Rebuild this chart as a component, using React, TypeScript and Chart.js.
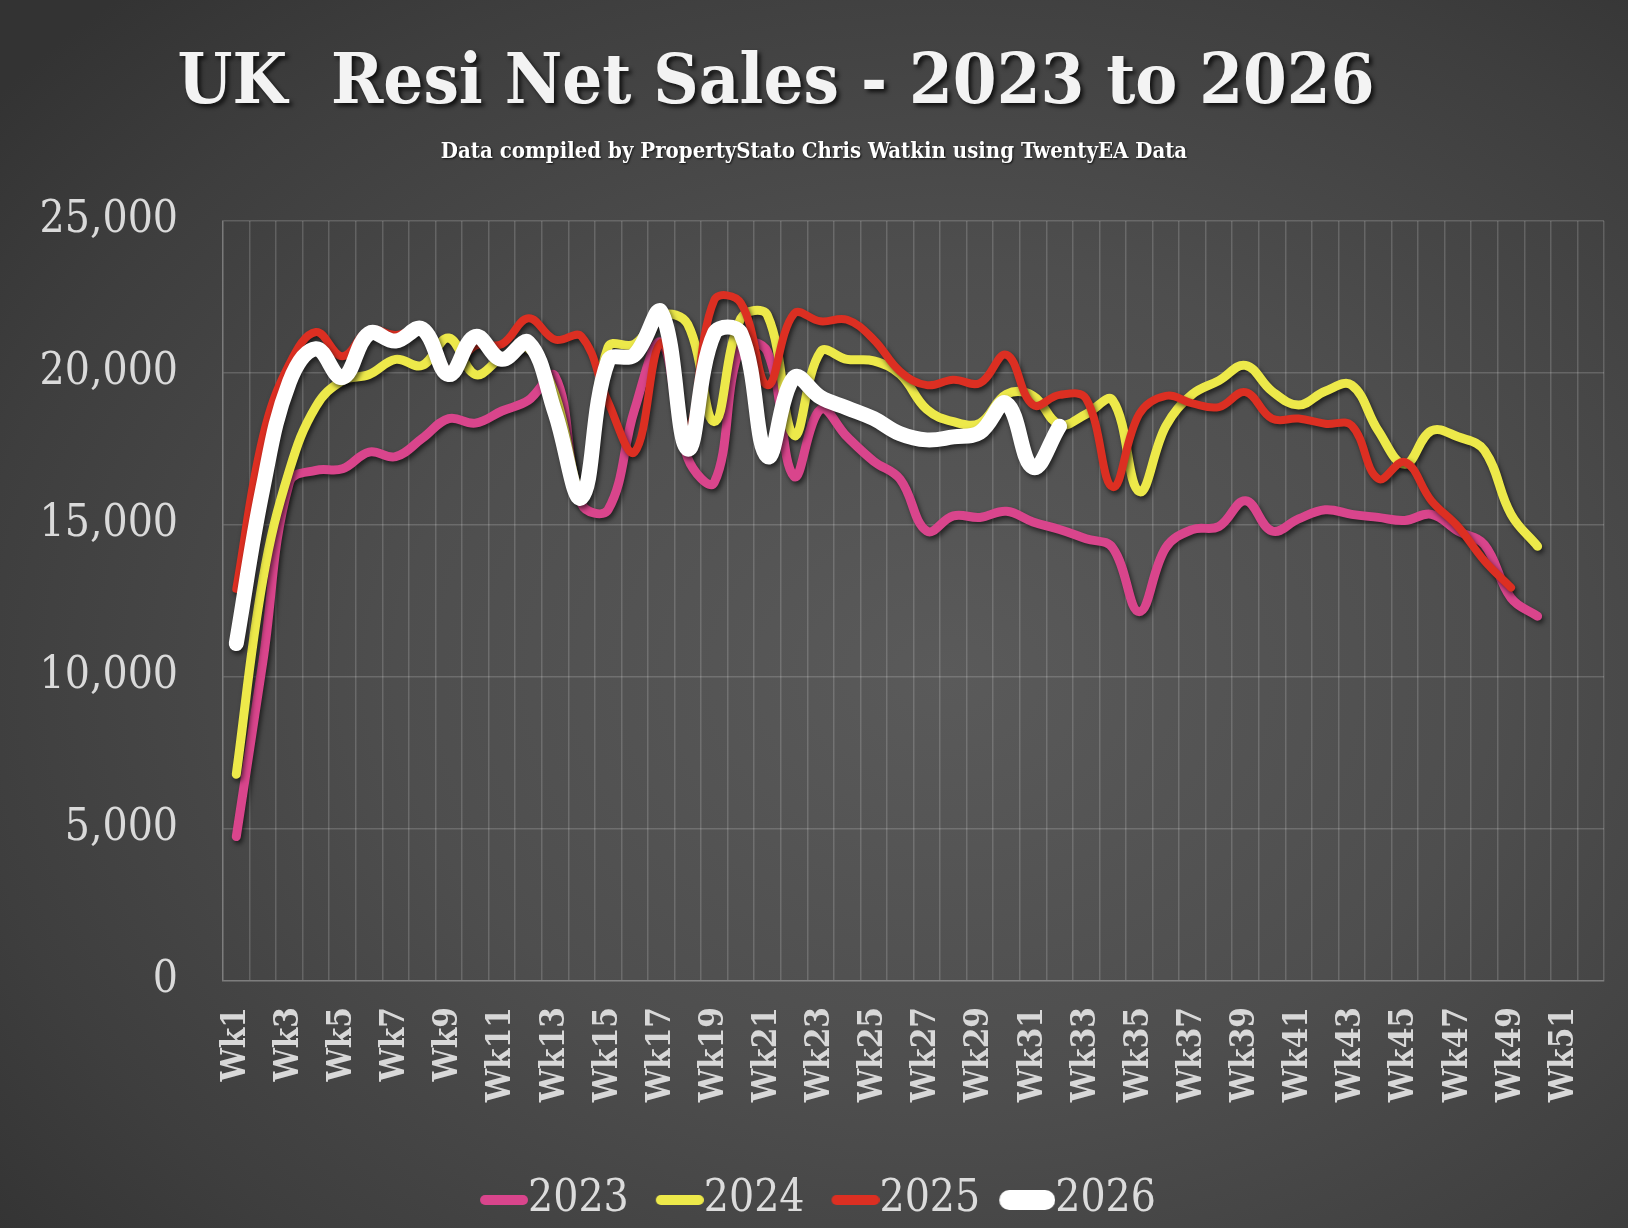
import React, { useEffect, useRef } from 'react';
import { Chart, registerables } from 'chart.js';

Chart.register(...registerables);

const weeks = [
  'Wk1', 'Wk2', 'Wk3', 'Wk4', 'Wk5', 'Wk6', 'Wk7', 'Wk8', 'Wk9', 'Wk10',
  'Wk11', 'Wk12', 'Wk13', 'Wk14', 'Wk15', 'Wk16', 'Wk17', 'Wk18', 'Wk19', 'Wk20',
  'Wk21', 'Wk22', 'Wk23', 'Wk24', 'Wk25', 'Wk26', 'Wk27', 'Wk28', 'Wk29', 'Wk30',
  'Wk31', 'Wk32', 'Wk33', 'Wk34', 'Wk35', 'Wk36', 'Wk37', 'Wk38', 'Wk39', 'Wk40',
  'Wk41', 'Wk42', 'Wk43', 'Wk44', 'Wk45', 'Wk46', 'Wk47', 'Wk48', 'Wk49', 'Wk50',
  'Wk51', 'Wk52',
];

const sales2023 = [
  4750, 10500, 16400, 16800, 16850, 17400, 17250, 17850, 18500, 18350,
  18750, 19100, 19900, 15700, 15500, 18800, 21000, 17200, 16400, 20900,
  20700, 16600, 18800, 17900, 17100, 16500, 14800, 15300, 15250, 15450,
  15100, 14850, 14550, 14250, 12150, 14250, 14850, 14950, 15800, 14800,
  15200, 15500, 15350, 15250, 15150, 15350, 14800, 14350, 12600, 12000,
];

const sales2024 = [
  6800, 13200, 16800, 18900, 19750, 19950, 20450, 20250, 21150, 19950,
  20500, 20800, 19300, 16200, 20850, 20950, 21900, 21600, 18400, 21800,
  21900, 17950, 20700, 20450, 20400, 19950, 18800, 18400, 18350, 19300,
  19250, 18300, 18650, 19100, 16100, 18250, 19300, 19750, 20250, 19400,
  18950, 19400, 19600, 18100, 17000, 18100, 17900, 17450, 15350, 14300,
];

const sales2025 = [
  12900, 17900, 20300, 21350, 20550, 21400, 21250, 21400, 20100, 20900,
  20950, 21800, 21100, 21200, 19050, 17400, 21000, 18200, 22400, 22300,
  19600, 21950, 21700, 21750, 21100, 20050, 19600, 19780, 19670, 20600,
  18950, 19280, 19150, 16250, 18650, 19250, 19000, 18880, 19370, 18500,
  18500, 18330, 18270, 16520, 17070, 15800, 14950, 13820, 12940,
];

const sales2026 = [
  11100, 16200, 19700, 20800, 19850, 21300, 21050, 21450, 19950, 21200,
  20450, 21000, 18700, 15900, 20400, 20600, 22000, 17500, 21300, 21300,
  17250, 19850, 19200, 18850, 18500, 18000, 17800, 17900, 18050, 19000,
  16900, 18250,
];

const seriesLabels = ['2023', '2024', '2025', '2026'];
const seriesColors = ['#D9458C', '#EDE94A', '#DC2F22', '#FFFFFF'];
const seriesWidths = [9, 9, 8, 15];
const legendLineWidths = [10, 10, 10, 20];
const legendLineLengths = [48, 48, 48, 56];
const yTicks = [0, 5000, 10000, 15000, 20000, 25000];

const TITLE = 'UK  Resi Net Sales - 2023 to 2026';
const SUBTITLE = 'Data compiled by PropertyStato Chris Watkin using TwentyEA Data';

const SERIF = "'DejaVu Serif Condensed', 'DejaVu Serif', serif";
const GRID = 'rgba(255,255,255,0.17)';

function makeLegendImage(color: string, lw: number, len: number) {
  const c = document.createElement('canvas');
  c.width = 70;
  c.height = 24;
  const g = c.getContext('2d')!;
  g.strokeStyle = color;
  g.lineWidth = lw;
  g.lineCap = 'round';
  g.beginPath();
  g.moveTo(70 - len + lw / 2, 12);
  g.lineTo(70 - lw / 2, 12);
  g.stroke();
  return c;
}

const shadowPlugin = {
  id: 'lineShadow',
  beforeDatasetDraw(chart: any) {
    const ctx = chart.ctx;
    ctx.save();
    ctx.shadowColor = 'rgba(0,0,0,0.6)';
    ctx.shadowBlur = 5;
    ctx.shadowOffsetX = 2;
    ctx.shadowOffsetY = 3;
  },
  afterDatasetDraw(chart: any) {
    chart.ctx.restore();
  },
};

const legendShiftPlugin = {
  id: 'legendShift',
  afterLayout(chart: any) {
    const lg = chart.legend;
    if (!lg) return;
    lg.left += 16;
    lg.right += 16;
    lg.top += 5;
    lg.bottom += 5;
  },
};

const headingPlugin = {
  id: 'headings',
  afterDraw(chart: any) {
    const ctx = chart.ctx;
    ctx.save();
    ctx.textAlign = 'center';
    ctx.textBaseline = 'alphabetic';
    ctx.shadowColor = 'rgba(0,0,0,0.75)';
    ctx.shadowBlur = 4;
    ctx.shadowOffsetX = 3;
    ctx.shadowOffsetY = 3;
    ctx.fillStyle = '#F3F3F3';
    ctx.font = `bold 70px ${SERIF}`;
    ctx.fillText(TITLE, 776, 103);
    ctx.shadowBlur = 2;
    ctx.shadowOffsetX = 1;
    ctx.shadowOffsetY = 1;
    ctx.fillStyle = '#FFFFFF';
    ctx.font = `bold 22px ${SERIF}`;
    ctx.fillText(SUBTITLE, 814, 158);
    ctx.restore();
  },
};

export default function App() {
  const ref = useRef<HTMLCanvasElement>(null);

  useEffect(() => {
    document.body.style.margin = '0';
    document.body.style.overflow = 'hidden';
    const canvas = ref.current;
    if (!canvas) return;

    const seriesData = [sales2023, sales2024, sales2025, sales2026];
    const legendImages = seriesColors.map((c, i) =>
      makeLegendImage(c, legendLineWidths[i], legendLineLengths[i])
    );

    const chart = new Chart(canvas, {
      type: 'line',
      data: {
        labels: weeks,
        datasets: seriesData.map((d, i) => ({
          label: seriesLabels[i],
          data: d,
          borderColor: seriesColors[i],
          backgroundColor: seriesColors[i],
          borderWidth: seriesWidths[i],
          borderCapStyle: 'round',
          borderJoinStyle: 'round',
          tension: 0.4,
          pointRadius: 0,
          pointHoverRadius: 0,
          fill: false,
          order: 4 - i,
        })) as any,
      },
      options: {
        responsive: false,
        animation: false,
        devicePixelRatio: 1,
        layout: { padding: { left: 0, right: 24, top: 221, bottom: 1 } },
        plugins: {
          title: { display: false },
          tooltip: { enabled: false },
          legend: {
            display: true,
            position: 'bottom',
            labels: {
              usePointStyle: true,
              pointStyleWidth: 26,
              padding: 27,
              color: '#DCDCDC',
              font: { family: SERIF, size: 44 },
              generateLabels: (ch: any) =>
                ch.data.datasets.map((ds: any, i: number) => ({
                  text: ds.label,
                  pointStyle: legendImages[i],
                  fillStyle: 'transparent',
                  strokeStyle: 'transparent',
                  lineWidth: 0,
                  fontColor: '#DCDCDC',
                  hidden: false,
                  datasetIndex: i,
                })),
            },
          },
        },
        scales: {
          x: {
            type: 'category',
            offset: true,
            grid: { display: true, offset: true, color: GRID, lineWidth: 1.5, drawTicks: false },
            border: { display: true, color: GRID, width: 1.5 },
            ticks: {
              autoSkip: false,
              minRotation: 90,
              maxRotation: 90,
              padding: 26,
              color: '#D8D8D8',
              font: { family: SERIF, size: 33, weight: 'bold' },
              callback: (_v: any, idx: number) => (idx % 2 === 0 ? weeks[idx] : ''),
            },
            afterFit: (s: any) => {
              s.height = 165;
              s.paddingLeft = 0;
              s.paddingRight = 0;
            },
          },
          y: {
            min: 0,
            max: 25000,
            grid: { display: true, color: GRID, lineWidth: 1.5, drawTicks: false },
            border: { display: true, color: GRID, width: 1.5 },
            afterBuildTicks: (s: any) => {
              s.ticks = yTicks.map((v) => ({ value: v }));
            },
            ticks: {
              padding: 45,
              color: '#DADADA',
              font: { family: SERIF, size: 44 },
              callback: (v: any) => Number(v).toLocaleString('en-US'),
            },
            afterFit: (s: any) => {
              s.width = 223;
            },
          },
        },
      } as any,
      plugins: [shadowPlugin, headingPlugin, legendShiftPlugin],
    });

    return () => chart.destroy();
  }, []);

  return (
    <div
      style={{
        width: 1628,
        height: 1228,
        position: 'relative',
        background:
          'radial-gradient(ellipse 75% 75% at 58% 55%, #5a5a5a 0%, #4e4e4e 45%, #3e3e3e 80%, #333333 100%)',
      }}
    >
      <canvas ref={ref} width={1628} height={1228} style={{ display: 'block' }} />
    </div>
  );
}
